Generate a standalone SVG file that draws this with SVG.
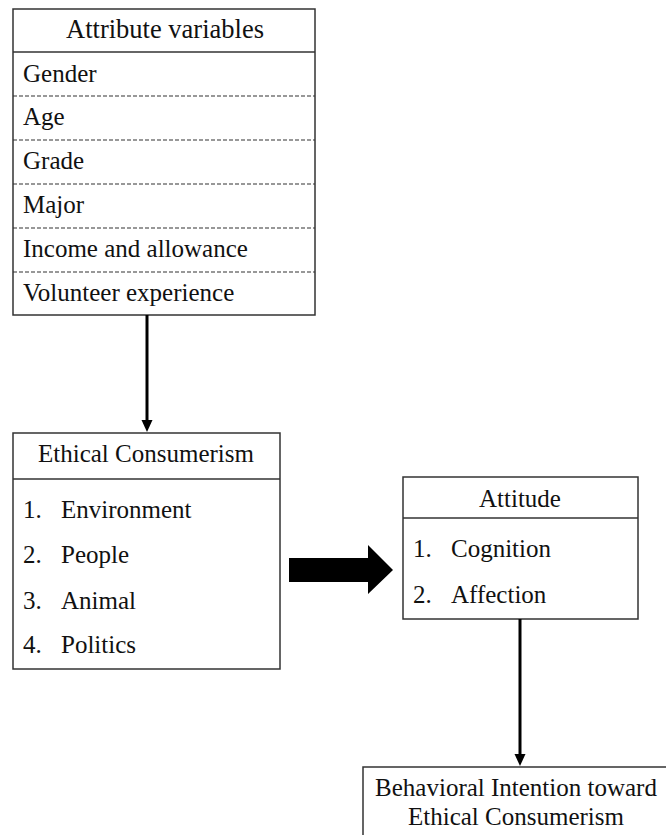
<svg xmlns="http://www.w3.org/2000/svg" width="666" height="835" viewBox="0 0 666 835">
<style>
.box{fill:#fff;stroke:#333;stroke-width:1.5}
.sep{stroke:#333;stroke-width:1.5}
.dash{stroke:#333;stroke-width:1.2;stroke-dasharray:4 2}
text{font-family:"Liberation Serif","Times New Roman",serif;font-size:25px;fill:#111}
.c{text-anchor:middle}
.conn{stroke:#000;stroke-width:3;fill:none}
</style>
<rect width="666" height="835" fill="#fff"/>
<g id="attributes">
<rect class="box" x="13" y="9" width="302" height="306"/>
<line class="sep" x1="13" y1="52" x2="315" y2="52"/>
<line class="dash" x1="13" y1="96" x2="315" y2="96"/>
<line class="dash" x1="13" y1="140" x2="315" y2="140"/>
<line class="dash" x1="13" y1="184" x2="315" y2="184"/>
<line class="dash" x1="13" y1="228" x2="315" y2="228"/>
<line class="dash" x1="13" y1="272" x2="315" y2="272"/>
<text class="c" x="165" y="38" style="font-size:26.5px">Attribute variables</text>
<text x="23" y="82">Gender</text>
<text x="23" y="125">Age</text>
<text x="23" y="169">Grade</text>
<text x="23" y="213">Major</text>
<text x="23" y="257">Income and allowance</text>
<text x="23" y="301">Volunteer experience</text>
</g>
<g id="ethical">
<rect class="box" x="13" y="433" width="267" height="236"/>
<line class="sep" x1="13" y1="479" x2="280" y2="479"/>
<text class="c" x="146" y="462">Ethical Consumerism</text>
<text x="23" y="518">1.</text><text x="61" y="518">Environment</text>
<text x="23" y="563">2.</text><text x="61" y="563">People</text>
<text x="23" y="609">3.</text><text x="61" y="609">Animal</text>
<text x="23" y="653">4.</text><text x="61" y="653">Politics</text>
</g>
<g id="attitude">
<rect class="box" x="403" y="477" width="235" height="142"/>
<line class="sep" x1="403" y1="518" x2="638" y2="518"/>
<text class="c" x="520" y="507">Attitude</text>
<text x="413" y="557">1.</text><text x="451" y="557">Cognition</text>
<text x="413" y="603">2.</text><text x="451" y="603">Affection</text>
</g>
<g id="behavioral">
<rect class="box" x="363" y="767" width="320" height="100"/>
<text class="c" x="516" y="796">Behavioral Intention toward</text>
<text class="c" x="516" y="825">Ethical Consumerism</text>
</g>
<g id="connectors">
<line class="conn" x1="147" y1="315" x2="147" y2="422"/>
<polygon points="141.5,420 152.5,420 147,432" fill="#000"/>
<line class="conn" x1="520" y1="619" x2="520" y2="756"/>
<polygon points="514.5,754 525.5,754 520,766" fill="#000"/>
<polygon points="289,558 368,558 368,545 393,570 368,594 368,582 289,582" fill="#000"/>
</g>
</svg>
